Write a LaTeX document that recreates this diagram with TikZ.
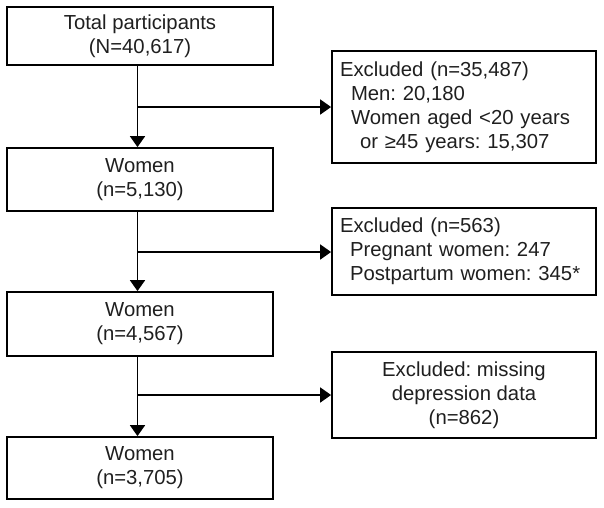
\documentclass[tikz,border=0pt]{standalone}
\usepackage{fontspec}
\setmainfont{Liberation Sans}
\usetikzlibrary{arrows.meta}
\frenchspacing
\begin{document}
\begin{tikzpicture}[x=1pt,y=-1pt,
  box/.style={draw, line width=1.8pt, inner sep=0pt, font=\fontsize{20.3}{24}\selectfont, align=center, text=black!88},
  lbox/.style={box, minimum width=266pt},
  rbox/.style={box, minimum width=264pt},
  arr/.style={line width=1.8pt, -{Triangle[length=11pt,width=15pt]}}]
\useasboundingbox (0,0) rectangle (604,507);
% left column
\node[lbox, minimum height=58pt] (b1) at (140,36) {Total participants\\(N=40,617)};
\node[lbox, minimum height=63pt] (b2) at (140,179.5) {Women\\(n=5,130)};
\node[lbox, minimum height=64pt] (b3) at (140,324) {Women\\(n=4,567)};
\node[lbox, minimum height=62pt] (b4) at (140,468) {Women\\(n=3,705)};
% right column
\node[rbox, minimum height=112pt, align=left, text width=248pt] (r1) at (464,107)
  {Excluded (n=35,487)\\\hspace*{11pt}Men: 20,180\\\hspace*{11pt}Women aged <20 years\\\hspace*{20pt}or ≥45 years: 15,307};
\node[rbox, minimum height=87pt, align=left, text width=248pt] (r2) at (464,251.5)
  {Excluded (n=563)\\\hspace*{10pt}Pregnant women: 247\\\hspace*{10pt}Postpartum women: 345*};
\node[rbox, minimum height=86pt] (r3) at (464,395)
  {Excluded: missing\\depression data\\(n=862)};
% junctions
\coordinate (j1) at (137.5,107);
\coordinate (j2) at (137.5,252);
\coordinate (j3) at (137.5,395);
% connectors
\draw[arr] ([xshift=-2.5pt]b1.south) -- ([xshift=-2.5pt]b2.north);
\draw[arr] ([xshift=-2.5pt]b2.south) -- ([xshift=-2.5pt]b3.north);
\draw[arr] ([xshift=-2.5pt]b3.south) -- ([xshift=-2.5pt]b4.north);
\draw[arr] (j1) -- (r1.west);
\draw[arr] (j2) -- (j2 -| r2.west);
\draw[arr] (j3) -- (r3.west);
\end{tikzpicture}
\end{document}
